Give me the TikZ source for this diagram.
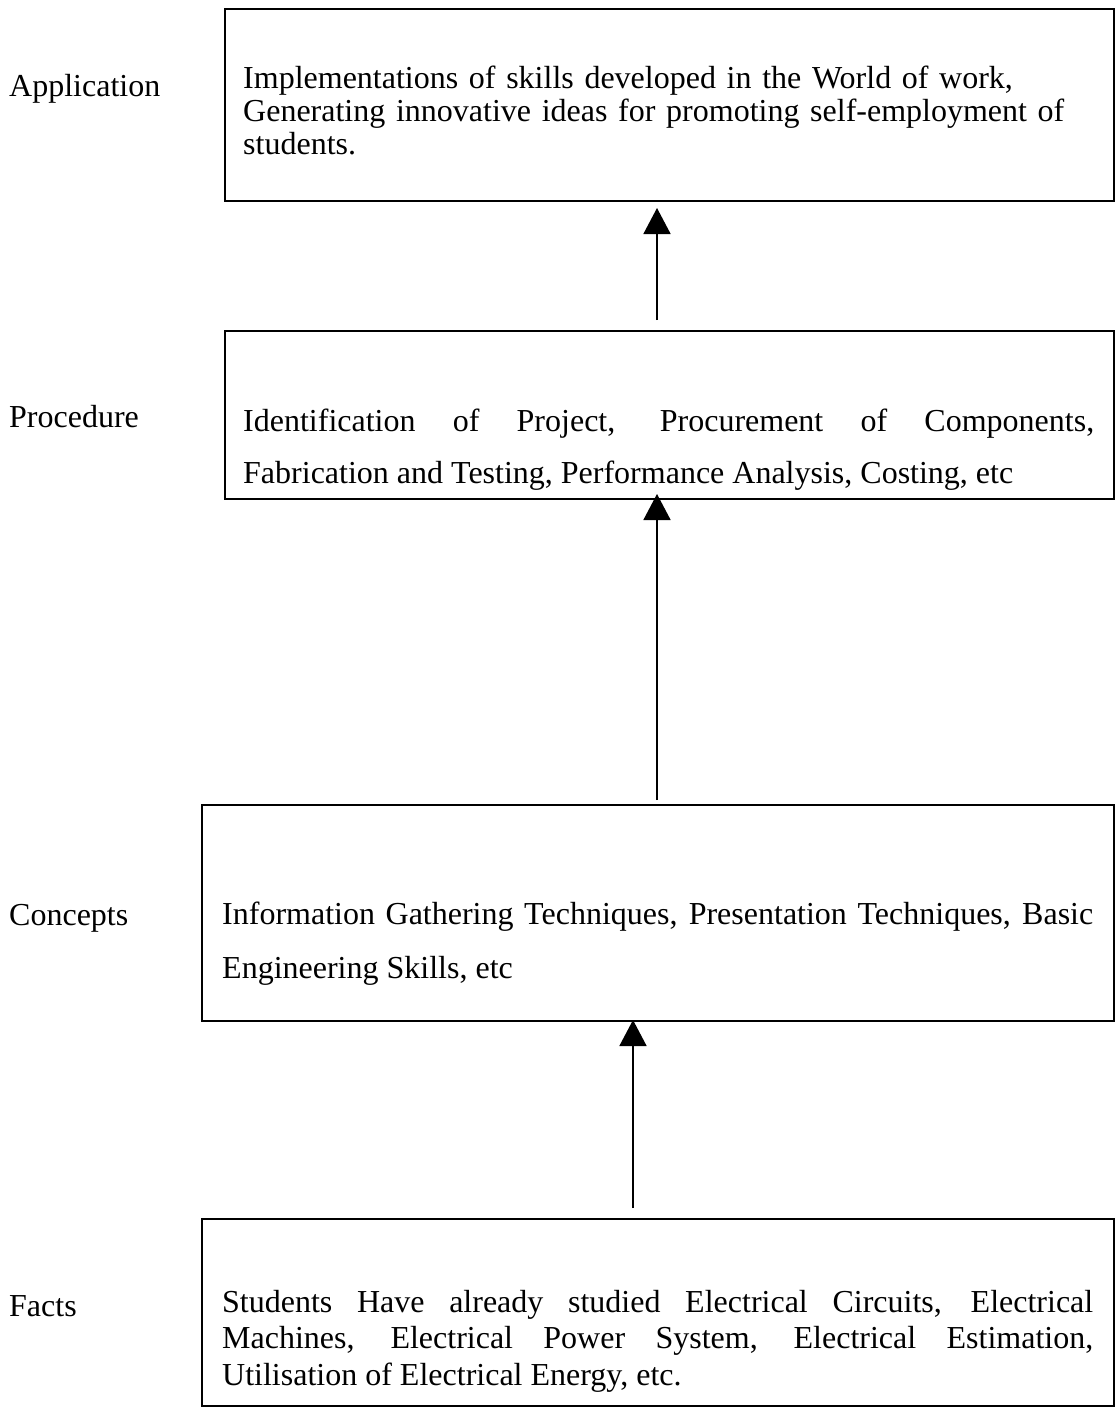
\documentclass[tikz,border=0pt]{standalone}
\usepackage{fontspec}
\setmainfont{Liberation Serif}
\usetikzlibrary{arrows.meta}
\tolerance=10000
\hyphenpenalty=10000
\exhyphenpenalty=10000
\begin{document}
\begin{tikzpicture}[x=1pt,y=-1pt,
  box/.style={draw, line width=2pt, rectangle, inner sep=0pt, anchor=north west},
  lbl/.style={anchor=base west, inner sep=0pt, font=\fontsize{32}{36}\selectfont},
  txt/.style={anchor=base west, inner sep=0pt, align=left},
  jtxt/.style={anchor=base west, inner sep=0pt, align=justify},
  conn/.style={line width=1.6pt, -{Triangle[width=27pt,length=26pt]}}]
\useasboundingbox (0,0) rectangle (1116,1409);
\fill[white] (0,0) rectangle (1116,1409);
% boxes
\node[box, minimum width=889pt, minimum height=192pt] (b1) at (224,8) {};
\node[box, minimum width=889pt, minimum height=168pt] (b2) at (224,330) {};
\node[box, minimum width=912pt, minimum height=216pt] (b3) at (201,804) {};
\node[box, minimum width=912pt, minimum height=187pt] (b4) at (201,1218) {};
% box texts
\node[txt, text width=860pt, font=\fontsize{32}{33}\selectfont] (t1) at (243,88)
  {Implementations of skills developed in the World of work,\\
   Generating innovative ideas for promoting self-employment of\\
   students.};
\node[jtxt, text width=851pt, font=\fontsize{32}{52}\selectfont] (t2) at (243,431)
  {Identification of Project, Procurement of Components,\linebreak
   Fabrication and Testing, Performance Analysis, Costing, etc};
\node[jtxt, text width=871pt, font=\fontsize{32}{54}\selectfont] (t3) at (222,924)
  {Information Gathering Techniques, Presentation Techniques, Basic\linebreak
   Engineering Skills, etc};
\node[jtxt, text width=871pt, font=\fontsize{32}{36.5}\selectfont] (t4) at (222,1312)
  {Students Have already studied Electrical Circuits, Electrical\linebreak
   Machines, Electrical Power System, Electrical Estimation,\linebreak
   Utilisation of Electrical Energy, etc.};
% labels
\node[lbl] (l1) at (9,96) {Application};
\node[lbl] (l2) at (9,427) {Procedure};
\node[lbl] (l3) at (9,925) {Concepts};
\node[lbl] (l4) at (9,1316) {Facts};
% connectors
\coordinate (c1) at (657,0);
\coordinate (c3) at (633,0);
\draw[conn, shorten <=10pt, shorten >=6pt] (b2.north -| c1) -- (b1.south -| c1);
\draw[conn, shorten <=4pt, shorten >=-6pt] (b3.north -| c1) -- (b2.south -| c1);
\draw[conn, shorten <=10pt, shorten >=-2pt] (b4.north -| c3) -- (b3.south -| c3);
\end{tikzpicture}
\end{document}
